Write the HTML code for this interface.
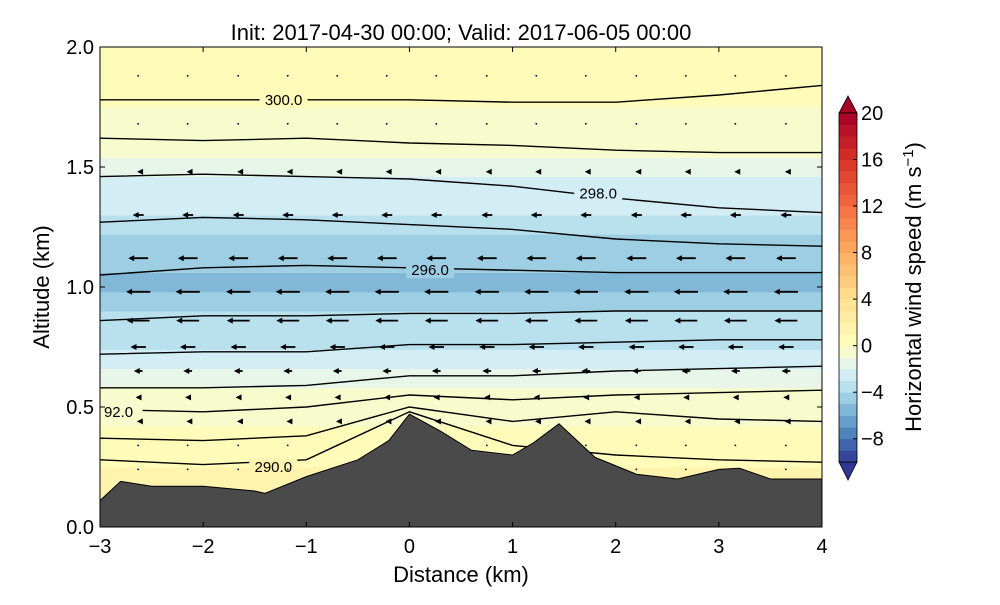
<!DOCTYPE html>
<html><head><meta charset="utf-8"><style>
body{margin:0;background:#fff;width:1000px;height:600px;overflow:hidden}
svg{font-family:"Liberation Sans",sans-serif}
</style></head><body>
<svg id="chart" width="1000" height="600" viewBox="0 0 1000 600" xmlns="http://www.w3.org/2000/svg">
<defs><clipPath id="plotclip"><rect x="100" y="47" width="722" height="480"/></clipPath></defs>
<text x="461" y="40" font-size="22" text-anchor="middle">Init: 2017-04-30 00:00; Valid: 2017-06-05 00:00</text>
<g id="plot" clip-path="url(#plotclip)"></g>
<g id="axes"></g>
<g id="cbar"></g>
<text x="461" y="582" font-size="22" text-anchor="middle">Distance (km)</text>
<text transform="translate(49,287) rotate(-90)" font-size="22" text-anchor="middle">Altitude (km)</text>
<text transform="translate(921,287) rotate(-90)" font-size="22" text-anchor="middle">Horizontal wind speed (m s<tspan dy="-8" font-size="15">−1</tspan><tspan dy="8">)</tspan></text>
</svg>
<script>
// ---- data ----
const bandAlts =   [0.0,0.25,0.42,0.5,0.58,0.66,0.74,0.82,0.9,0.98,1.06,1.14,1.22,1.3,1.38,1.46,1.54,1.62,1.75,1.9,2.0];
const bandSpeeds = [1.0,0.3,-0.4,-1.0,-1.5,-2.2,-3.2,-4.0,-4.8,-5.2,-5.0,-4.4,-3.6,-2.8,-2.2,-1.5,-0.8,-0.2,0.3,0.8];
const terrainX = [-3,-2.8,-2.5,-2,-1.5,-1.4,-1,-0.5,-0.2,0,0.3,0.6,1.0,1.2,1.45,1.8,2.2,2.6,3.0,3.2,3.5,4];
const terrainH = [0.11,0.19,0.17,0.17,0.15,0.14,0.21,0.28,0.36,0.47,0.40,0.32,0.30,0.35,0.43,0.29,0.22,0.20,0.24,0.245,0.20,0.20];
const contourX = [-3,-2,-1,0,1,2,3,4];
const contourAlts = [
 [1.78,1.78,1.78,1.78,1.77,1.77,1.80,1.84],
 [1.62,1.61,1.62,1.60,1.59,1.57,1.56,1.56],
 [1.46,1.47,1.46,1.45,1.42,1.37,1.33,1.31],
 [1.27,1.29,1.28,1.26,1.24,1.20,1.18,1.17],
 [1.05,1.08,1.09,1.08,1.07,1.06,1.06,1.06],
 [0.86,0.88,0.88,0.89,0.89,0.90,0.90,0.90],
 [0.72,0.73,0.73,0.76,0.76,0.77,0.78,0.78],
 [0.58,0.58,0.59,0.63,0.63,0.65,0.66,0.67],
 [0.49,0.48,0.50,0.55,0.53,0.55,0.56,0.57],
 [0.37,0.36,0.38,0.50,0.44,0.48,0.45,0.44],
 [0.28,0.26,0.28,0.48,0.34,0.30,0.28,0.27]
];
const labelText = ["300.0","298.0","296.0","92.0","290.0"];
const labelX = [-1.22,1.83,0.2,-2.82,-1.32];
const labelAlt = [1.78,1.39,1.07,0.48,0.25];
const arrowX = [-2.63,-2.15,-1.66,-1.18,-0.7,-0.22,0.26,0.75,1.23,1.71,2.2,2.68,3.16,3.65];
const arrowAlt = [1.88,1.68,1.48,1.30,1.12,0.98,0.86,0.75,0.65,0.54,0.44,0.34,0.24];
const arrowU =   [0.3,0.2,-0.5,-2.5,-4.5,-5.5,-5.2,-3.5,-2.0,-1.2,-0.6,-0.3,-0.2];
const cbTicks = [20,16,12,8,4,0,-4,-8];
const xTicks = [-3,-2,-1,0,1,2,3,4];
const yTicks = [0.0,0.5,1.0,1.5,2.0];
// ---- scales ----
const X0=100,X1=822,Y0=527,Y1=47;
const sx=v=>X0+(v+3)/7*(X1-X0);
const sy=v=>Y0-v/2*(Y0-Y1);
const cbTop=113,cbBot=462;
const cy=v=>cbBot-(v+10)/30*(cbBot-cbTop);
const stops=[[-10,[49,54,149]],[-8,[69,117,180]],[-6,[116,173,209]],[-4,[171,217,233]],[-2,[224,243,248]],[0,[255,255,191]],[4,[254,224,144]],[8,[253,174,97]],[12,[244,109,67]],[16,[215,48,39]],[20,[165,0,38]]];
function cmap(v){v=Math.max(-10,Math.min(20,v));for(let i=0;i<stops.length-1;i++){const a=stops[i],b=stops[i+1];if(v<=b[0]){const t=(v-a[0])/(b[0]-a[0]);const c=a[1].map((x,k)=>Math.round(x+(b[1][k]-x)*t));return `rgb(${c})`;}}return 'rgb(165,0,38)';}
const q=v=>Math.floor(v)+0.5;
function bandColorAt(al){for(let i=0;i<bandSpeeds.length;i++){if(al<=bandAlts[i+1])return cmap(q(bandSpeeds[i]));}return cmap(q(bandSpeeds[bandSpeeds.length-1]));}
const NS="http://www.w3.org/2000/svg";
function mk(t,p,a){const e=document.createElementNS(NS,t);for(const k in a)e.setAttribute(k,a[k]);p.appendChild(e);return e;}
const plot=document.getElementById('plot'),axes=document.getElementById('axes'),cbar=document.getElementById('cbar');
for(let i=0;i<bandSpeeds.length;i++){
 const r=mk('rect',plot,{x:X0,y:sy(bandAlts[i+1]),width:X1-X0,height:sy(bandAlts[i])-sy(bandAlts[i+1])+0.5,fill:cmap(q(bandSpeeds[i]))});
 
 
}
contourAlts.forEach(arr=>{
 const d=arr.map((a,i)=>(i?'L':'M')+sx(contourX[i])+','+sy(a)).join(' ');
 const p=mk('path',plot,{d:d,fill:'none',stroke:'#000','stroke-width':1.4});
 
 
});
labelText.forEach((t,i)=>{
 const bx=sx(labelX[i]),by=sy(labelAlt[i]);
 const bg=mk('rect',plot,{x:bx-24,y:by-8,width:48,height:16,fill:bandColorAt(labelAlt[i])});
 
 
 const e=mk('text',plot,{x:bx,y:by+5,'font-size':15,'text-anchor':'middle'});e.textContent=t;
 
 
});
arrowAlt.forEach((al,r)=>{arrowX.forEach((xv,c)=>{
 const tx=sx(xv),ty=sy(al);
 const L=arrowU[r]*4.4;
 const g=mk('g',plot,{});
 
 
 if(Math.abs(L)<2){mk('circle',g,{cx:tx,cy:ty,r:0.9,fill:'#000'});return;}
 const hx=tx+L/2,ex=tx-L/2,dir=Math.sign(L);
 mk('line',g,{x1:ex,y1:ty,x2:hx-dir*4,y2:ty,stroke:'#000','stroke-width':1.8});
 mk('polygon',g,{points:`${hx},${ty} ${hx-dir*6},${ty-3} ${hx-dir*6},${ty+3}`,fill:'#000'});
});});
let td='M'+sx(-3)+','+Y0+' '+terrainX.map((x,i)=>'L'+sx(x)+','+sy(terrainH[i])).join(' ')+' L'+sx(4)+','+Y0+' Z';
const ter=mk('path',plot,{d:td,fill:'#4a4a4a',stroke:'#000','stroke-width':1});


const fr=mk('rect',axes,{x:X0,y:Y1,width:X1-X0,height:Y0-Y1,fill:'none',stroke:'#000','stroke-width':1});


xTicks.forEach(v=>{const x=sx(v);
 mk('line',axes,{x1:x,y1:Y0,x2:x,y2:Y0-5,stroke:'#000'});mk('line',axes,{x1:x,y1:Y1,x2:x,y2:Y1+5,stroke:'#000'});
 const t=mk('text',axes,{x:x,y:Y0+26,'font-size':20,'text-anchor':'middle'});t.textContent=(v<0?'−':'')+Math.abs(v);
 
 
});
yTicks.forEach(v=>{const y=sy(v);
 mk('line',axes,{x1:X0,y1:y,x2:X0+5,y2:y,stroke:'#000'});mk('line',axes,{x1:X1,y1:y,x2:X1-5,y2:y,stroke:'#000'});
 const t=mk('text',axes,{x:X0-6,y:y+7,'font-size':20,'text-anchor':'end'});t.textContent=v.toFixed(1);
 
 
});
for(let v=-10;v<20;v++){
 const r=mk('rect',cbar,{x:839,y:cy(v+1),width:18,height:cy(v)-cy(v+1)+0.4,fill:cmap(v+0.5)});
 
 
}
const tp=mk('polygon',cbar,{points:`839,${cbTop} 848,96 857,${cbTop}`,fill:cmap(20),stroke:'#000','stroke-width':0.8});


const bt=mk('polygon',cbar,{points:`839,${cbBot} 848,480 857,${cbBot}`,fill:cmap(-10),stroke:'#000','stroke-width':0.8});


mk('rect',cbar,{x:839,y:cbTop,width:18,height:cbBot-cbTop,fill:'none',stroke:'#000','stroke-width':0.8});
cbTicks.forEach(v=>{const y=cy(v);
 mk('line',cbar,{x1:853,y1:y,x2:857,y2:y,stroke:'#000'});
 const t=mk('text',cbar,{x:861,y:y+7,'font-size':20});t.textContent=(v<0?'−':'')+Math.abs(v);
 
 
});
</script>
</body></html>
